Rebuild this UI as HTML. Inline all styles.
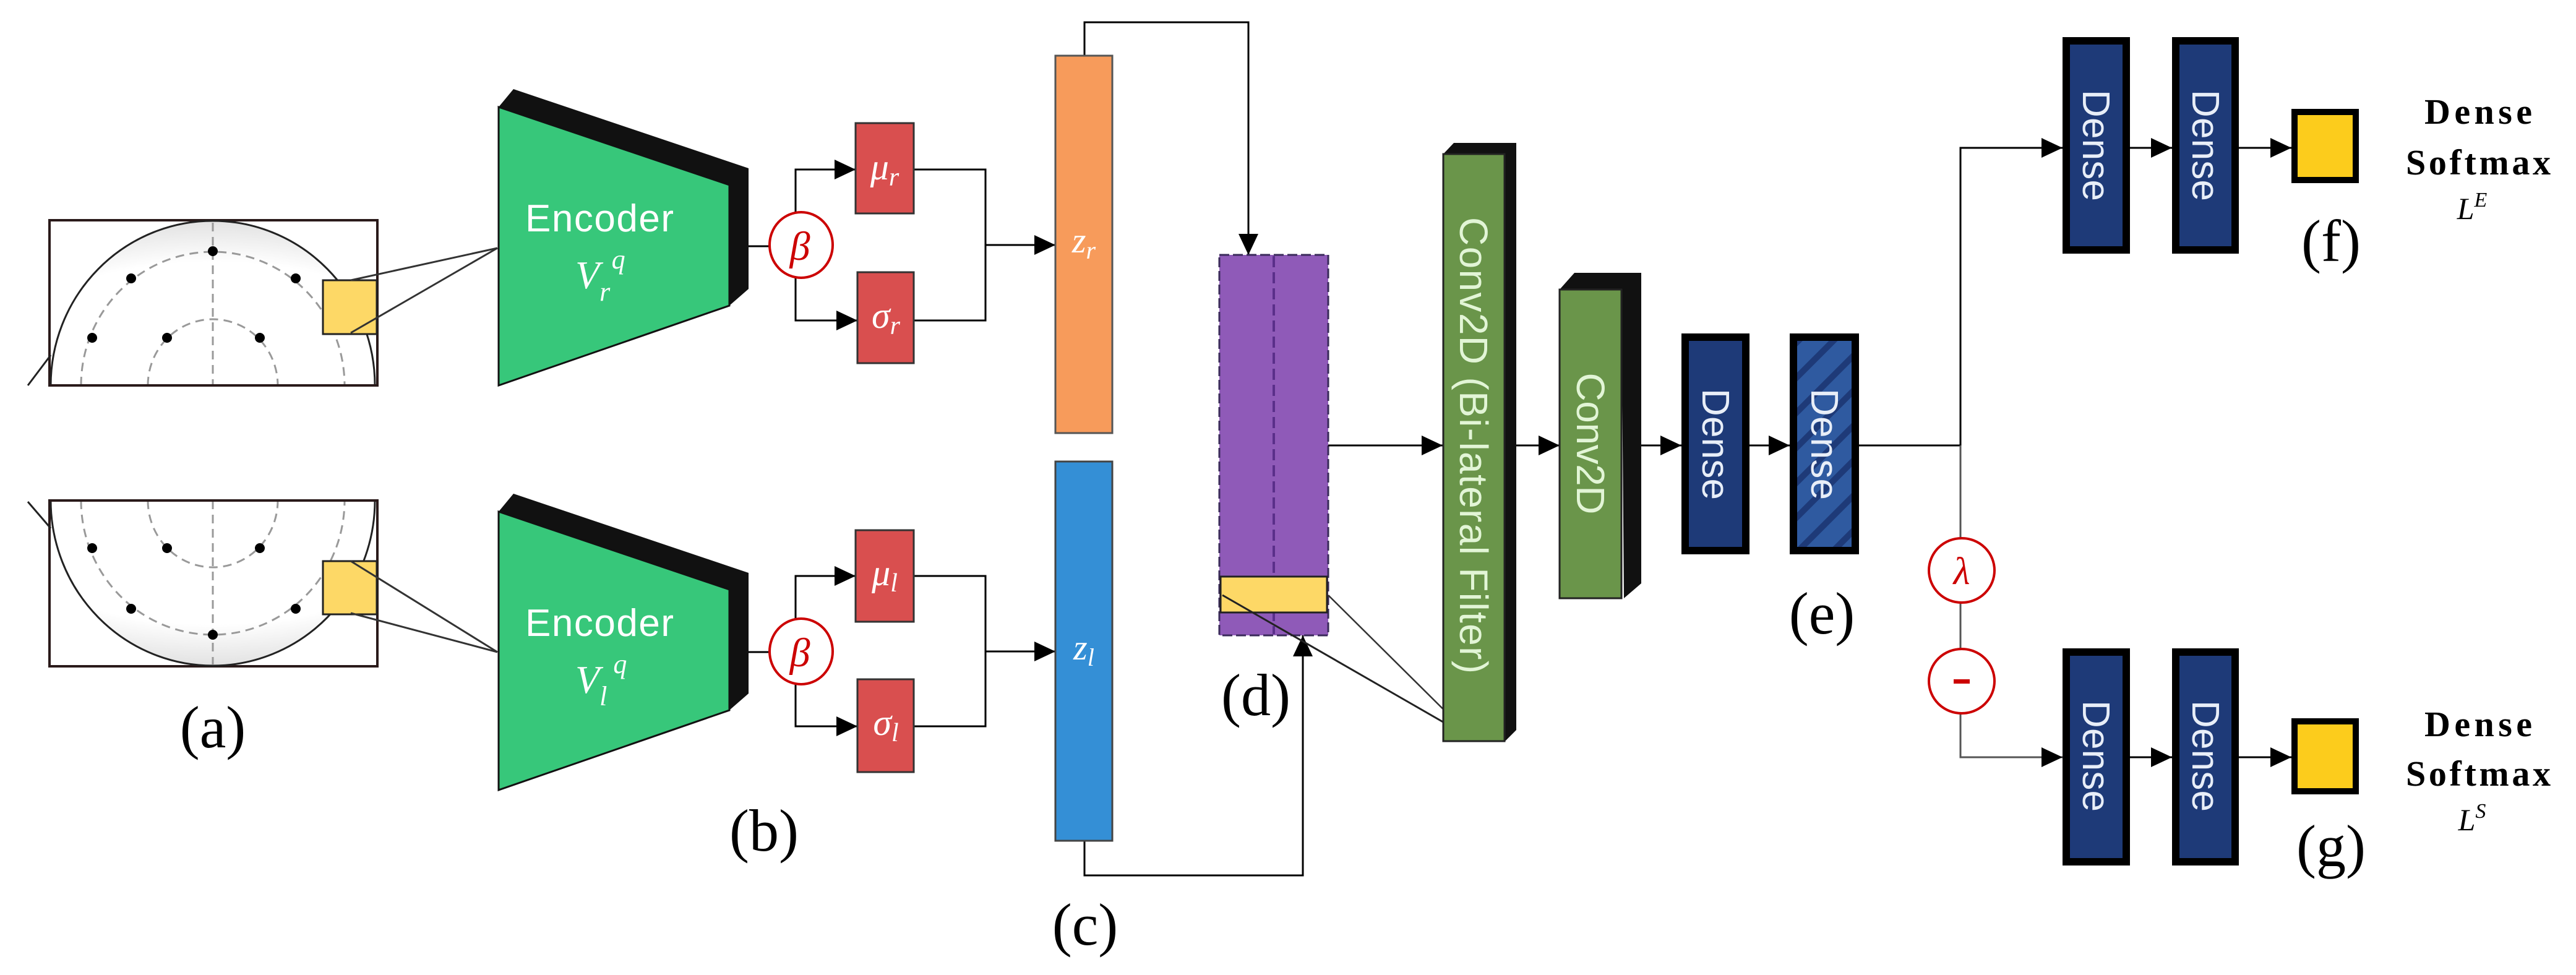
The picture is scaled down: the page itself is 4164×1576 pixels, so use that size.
<!DOCTYPE html>
<html><head><meta charset="utf-8"><style>html,body{margin:0;padding:0;background:#fff}svg{display:block}</style></head>
<body>
<svg width="4164" height="1576" viewBox="0 0 4164 1576" xmlns="http://www.w3.org/2000/svg">
<defs>
<marker id="ar" markerUnits="userSpaceOnUse" markerWidth="36" markerHeight="32" refX="34" refY="16" orient="auto">
<path d="M0,0 L34,16 L0,32 z" fill="#000"/></marker>
<radialGradient id="hg" cx="0.5" cy="1" r="1">
<stop offset="0.75" stop-color="#ffffff"/><stop offset="1" stop-color="#e2e2e2"/></radialGradient>
<radialGradient id="hg2" cx="0.5" cy="0" r="1">
<stop offset="0.75" stop-color="#ffffff"/><stop offset="1" stop-color="#e2e2e2"/></radialGradient>
<pattern id="hatch" patternUnits="userSpaceOnUse" width="40" height="40" patternTransform="rotate(45)">
<rect width="40" height="40" fill="#2f5aa0"/><rect width="10" height="40" fill="#1e3a78"/></pattern>
</defs>
<g font-family="Liberation Serif, serif">

<!-- (a) top -->
<rect x="80" y="356" width="530" height="267" fill="#fff" stroke="#2a1a1a" stroke-width="4"/>
<path d="M82,623 A262,266 0 0 1 606,623 Z" fill="url(#hg)" stroke="#222" stroke-width="3"/>
<path d="M131,623 A213,216 0 0 1 557,623" fill="none" stroke="#999" stroke-width="3" stroke-dasharray="14,9"/>
<path d="M239,623 A105,107 0 0 1 449,623" fill="none" stroke="#999" stroke-width="3" stroke-dasharray="14,9"/>
<line x1="344" y1="360" x2="344" y2="623" stroke="#999" stroke-width="3" stroke-dasharray="14,9"/>
<line x1="80" y1="623" x2="610" y2="623" stroke="#2a1a1a" stroke-width="4"/>
<line x1="45" y1="623" x2="82" y2="574" stroke="#222" stroke-width="3"/>
<g fill="#000"><circle cx="344" cy="406" r="8"/><circle cx="212" cy="450" r="8"/><circle cx="478" cy="450" r="8"/><circle cx="149" cy="546" r="8"/><circle cx="270" cy="546" r="8"/><circle cx="420" cy="546" r="8"/></g>
<rect x="522" y="453" width="87" height="87" fill="#fdd866" stroke="#222" stroke-width="3"/>
<line x1="567" y1="453" x2="804" y2="401" stroke="#333" stroke-width="3"/>
<line x1="567" y1="538" x2="804" y2="401" stroke="#333" stroke-width="3"/>

<!-- (a) bottom -->
<rect x="80" y="809" width="530" height="268" fill="#fff" stroke="#2a1a1a" stroke-width="4"/>
<path d="M82,809 A262,267 0 0 0 606,809 Z" fill="url(#hg2)" stroke="#222" stroke-width="3"/>
<path d="M131,809 A213,217 0 0 0 557,809" fill="none" stroke="#999" stroke-width="3" stroke-dasharray="14,9"/>
<path d="M239,809 A105,108 0 0 0 449,809" fill="none" stroke="#999" stroke-width="3" stroke-dasharray="14,9"/>
<line x1="344" y1="809" x2="344" y2="1074" stroke="#999" stroke-width="3" stroke-dasharray="14,9"/>
<line x1="80" y1="809" x2="610" y2="809" stroke="#2a1a1a" stroke-width="4"/>
<line x1="45" y1="811" x2="82" y2="854" stroke="#222" stroke-width="3"/>
<g fill="#000"><circle cx="149" cy="886" r="8"/><circle cx="270" cy="886" r="8"/><circle cx="420" cy="886" r="8"/><circle cx="212" cy="984" r="8"/><circle cx="478" cy="984" r="8"/><circle cx="344" cy="1026" r="8"/></g>
<rect x="522" y="907" width="87" height="86" fill="#fdd866" stroke="#222" stroke-width="3"/>
<line x1="567" y1="907" x2="804" y2="1054" stroke="#333" stroke-width="3"/>
<line x1="567" y1="991" x2="804" y2="1054" stroke="#333" stroke-width="3"/>
<text x="344" y="1208" font-size="96" text-anchor="middle">(a)</text>

<!-- encoders -->
<g id="enc">
<polygon points="806,173 830,144 1210,272 1210,467 1179,494 1179,299" fill="#111"/>
<polygon points="806,173 1179,299 1179,494 806,623" fill="#37c77a" stroke="#111" stroke-width="3"/>
<text x="969" y="374" font-family="Liberation Sans, sans-serif" font-size="62" fill="#fff" text-anchor="middle" textLength="240">Encoder</text>
<text x="930" y="466" font-size="64" fill="#fff" font-style="italic">V<tspan font-size="44" dy="20">r</tspan><tspan font-size="44" dy="-52" dx="4">q</tspan></text>
</g>
<g>
<polygon points="806,827 830,798 1210,926 1210,1121 1179,1148 1179,953" fill="#111"/>
<polygon points="806,827 1179,953 1179,1148 806,1277" fill="#37c77a" stroke="#111" stroke-width="3"/>
<text x="969" y="1028" font-family="Liberation Sans, sans-serif" font-size="62" fill="#fff" text-anchor="middle" textLength="240">Encoder</text>
<text x="930" y="1120" font-size="64" fill="#fff" font-style="italic">V<tspan font-size="44" dy="20">l</tspan><tspan font-size="44" dy="-52" dx="10">q</tspan></text>
</g>
<text x="1235" y="1375" font-size="96" text-anchor="middle">(b)</text>

<!-- beta + branches top -->
<g stroke="#000" stroke-width="3" fill="none">
<line x1="1210" y1="398" x2="1245" y2="398"/>
<polyline points="1286,350 1286,274 1383,274" marker-end="url(#ar)"/>
<polyline points="1286,445 1286,518 1386,518" marker-end="url(#ar)"/>
<polyline points="1477,274 1593,274 1593,518 1477,518"/>
<line x1="1593" y1="396" x2="1706" y2="396" marker-end="url(#ar)"/>
<line x1="1210" y1="1054" x2="1245" y2="1054"/>
<polyline points="1286,1006 1286,931 1383,931" marker-end="url(#ar)"/>
<polyline points="1286,1102 1286,1174 1386,1174" marker-end="url(#ar)"/>
<polyline points="1477,931 1593,931 1593,1174 1477,1174"/>
<line x1="1593" y1="1053" x2="1706" y2="1053" marker-end="url(#ar)"/>
</g>
<ellipse cx="1295" cy="396" rx="51" ry="53" fill="#fff" stroke="#c00" stroke-width="4"/>
<text x="1293" y="420" font-size="66" fill="#c00" font-style="italic" text-anchor="middle">β</text>
<ellipse cx="1295" cy="1053" rx="51" ry="53" fill="#fff" stroke="#c00" stroke-width="4"/>
<text x="1293" y="1077" font-size="66" fill="#c00" font-style="italic" text-anchor="middle">β</text>

<g fill="#d94f4f" stroke="#333" stroke-width="3">
<rect x="1383" y="199" width="94" height="146"/>
<rect x="1386" y="440" width="91" height="147"/>
<rect x="1383" y="857" width="94" height="148"/>
<rect x="1386" y="1098" width="91" height="150"/>
</g>
<g fill="#fff" font-style="italic" font-size="60" text-anchor="middle">
<text x="1430" y="290">μ<tspan font-size="42" dy="10">r</tspan></text>
<text x="1432" y="530">σ<tspan font-size="42" dy="10">r</tspan></text>
<text x="1430" y="946">μ<tspan font-size="42" dy="10">l</tspan></text>
<text x="1432" y="1188">σ<tspan font-size="42" dy="10">l</tspan></text>
</g>

<!-- z vectors -->
<g stroke="#000" stroke-width="3" fill="none">
<polyline points="1753,90 1753,36 2018,36 2018,412" marker-end="url(#ar)"/>
<polyline points="1753,1359 1753,1415 2106,1415 2106,1027" marker-end="url(#ar)"/>
</g>
<rect x="1706" y="90" width="92" height="610" fill="#f79b5b" stroke="#555" stroke-width="3"/>
<rect x="1706" y="746" width="92" height="613" fill="#348fd6" stroke="#444" stroke-width="3"/>
<text x="1752" y="408" font-size="58" fill="#fff" font-style="italic" text-anchor="middle">z<tspan font-size="40" dy="10">r</tspan></text>
<text x="1752" y="1066" font-size="58" fill="#fff" font-style="italic" text-anchor="middle">z<tspan font-size="40" dy="10">l</tspan></text>
<text x="1754" y="1527" font-size="96" text-anchor="middle">(c)</text>

<!-- purple -->
<rect x="1971" y="412" width="176" height="615" fill="#8f5ab8" stroke="#3a2a5a" stroke-width="3" stroke-dasharray="16,6"/>
<line x1="2059" y1="414" x2="2059" y2="1025" stroke="#5a2f8a" stroke-width="4" stroke-dasharray="18,8"/>
<rect x="1973" y="932" width="172" height="58" fill="#fdd866" stroke="#222" stroke-width="3"/>
<line x1="1976" y1="962" x2="2383" y2="1196" stroke="#222" stroke-width="3"/>
<line x1="2147" y1="962" x2="2383" y2="1196" stroke="#333" stroke-width="2.5"/>
<text x="2030" y="1156" font-size="96" text-anchor="middle">(d)</text>
<line x1="2147" y1="720" x2="2332" y2="720" stroke="#000" stroke-width="3" marker-end="url(#ar)"/>

<!-- conv2d BF -->
<polygon points="2333,249 2350,231 2451,231 2451,1180 2433,1198 2431,249" fill="#111"/>
<rect x="2333" y="249" width="99" height="949" fill="#6a954a" stroke="#222" stroke-width="3"/>
<text transform="translate(2360,720) rotate(90)" font-family="Liberation Sans, sans-serif" font-size="64" fill="#e2f5d6" text-anchor="middle" textLength="738">Conv2D (Bi-lateral Filter)</text>
<line x1="2451" y1="720" x2="2521" y2="720" stroke="#000" stroke-width="3" marker-end="url(#ar)"/>
<polygon points="2521,468 2545,441 2653,441 2653,943 2625,967 2621,468" fill="#111"/>
<rect x="2521" y="468" width="100" height="499" fill="#6a954a" stroke="#222" stroke-width="3"/>
<text transform="translate(2549,717) rotate(90)" font-family="Liberation Sans, sans-serif" font-size="64" fill="#e2f5d6" text-anchor="middle" textLength="229">Conv2D</text>
<line x1="2653" y1="720" x2="2718" y2="720" stroke="#000" stroke-width="3" marker-end="url(#ar)"/>

<!-- dense e -->
<rect x="2724" y="545" width="98" height="345" fill="#1e3a78" stroke="#000" stroke-width="12"/>
<text transform="translate(2752,718) rotate(90)" font-family="Liberation Sans, sans-serif" font-size="62" fill="#e8eef8" text-anchor="middle" textLength="180">Dense</text>
<line x1="2828" y1="720" x2="2893" y2="720" stroke="#000" stroke-width="3" marker-end="url(#ar)"/>
<rect x="2899" y="545" width="100" height="345" fill="url(#hatch)" stroke="#000" stroke-width="12"/>
<text transform="translate(2928,718) rotate(90)" font-family="Liberation Sans, sans-serif" font-size="62" fill="#e8eef8" text-anchor="middle" textLength="180">Dense</text>
<text x="2945" y="1024" font-size="96" text-anchor="middle">(e)</text>

<!-- split -->
<g stroke="#000" stroke-width="3" fill="none">
<line x1="3005" y1="720" x2="3170" y2="720"/>
<polyline points="3169,720 3169,239 3334,239" marker-end="url(#ar)"/>
<polyline points="3169,720 3169,1224 3334,1224" marker-end="url(#ar)" stroke="#555"/>
<line x1="3443" y1="239" x2="3511" y2="239" marker-end="url(#ar)"/>
<line x1="3619" y1="239" x2="3704" y2="239" marker-end="url(#ar)"/>
<line x1="3443" y1="1224" x2="3511" y2="1224" marker-end="url(#ar)"/>
<line x1="3619" y1="1224" x2="3704" y2="1224" marker-end="url(#ar)"/>
</g>
<ellipse cx="3171" cy="922" rx="53" ry="52" fill="#fff" stroke="#c00" stroke-width="4"/>
<text x="3171" y="944" font-size="62" fill="#c00" font-style="italic" text-anchor="middle">λ</text>
<ellipse cx="3171" cy="1101" rx="53" ry="52" fill="#fff" stroke="#c00" stroke-width="4"/>
<rect x="3158" y="1098" width="26" height="7" fill="#c00"/>

<g fill="#1e3a78" stroke="#000" stroke-width="12">
<rect x="3340" y="66" width="97" height="338"/>
<rect x="3517" y="66" width="96" height="338"/>
<rect x="3340" y="1054" width="97" height="339"/>
<rect x="3517" y="1054" width="96" height="339"/>
</g>
<g font-family="Liberation Sans, sans-serif" font-size="62" fill="#e8eef8" text-anchor="middle">
<text transform="translate(3367,235) rotate(90)" textLength="180">Dense</text>
<text transform="translate(3544,235) rotate(90)" textLength="180">Dense</text>
<text transform="translate(3367,1222) rotate(90)" textLength="180">Dense</text>
<text transform="translate(3544,1222) rotate(90)" textLength="180">Dense</text>
</g>
<rect x="3709" y="181" width="99" height="110" fill="#fccc1c" stroke="#000" stroke-width="10"/>
<rect x="3709" y="1166" width="99" height="113" fill="#fccc1c" stroke="#000" stroke-width="10"/>
<text x="3768" y="422" font-size="96" text-anchor="middle">(f)</text>
<text x="3768" y="1400" font-size="96" text-anchor="middle">(g)</text>

<g font-weight="bold" font-size="58" text-anchor="middle">
<text x="4006" y="200" textLength="174">Dense</text>
<text x="4006" y="282" textLength="234">Softmax</text>
<text x="4006" y="1190" textLength="174">Dense</text>
<text x="4006" y="1270" textLength="234">Softmax</text>
</g>
<text x="3996" y="354" font-size="50" font-style="italic" text-anchor="middle">L<tspan font-size="34" dy="-20">E</tspan></text>
<text x="3996" y="1342" font-size="50" font-style="italic" text-anchor="middle">L<tspan font-size="34" dy="-20">S</tspan></text>
</g>
</svg>
</body></html>
